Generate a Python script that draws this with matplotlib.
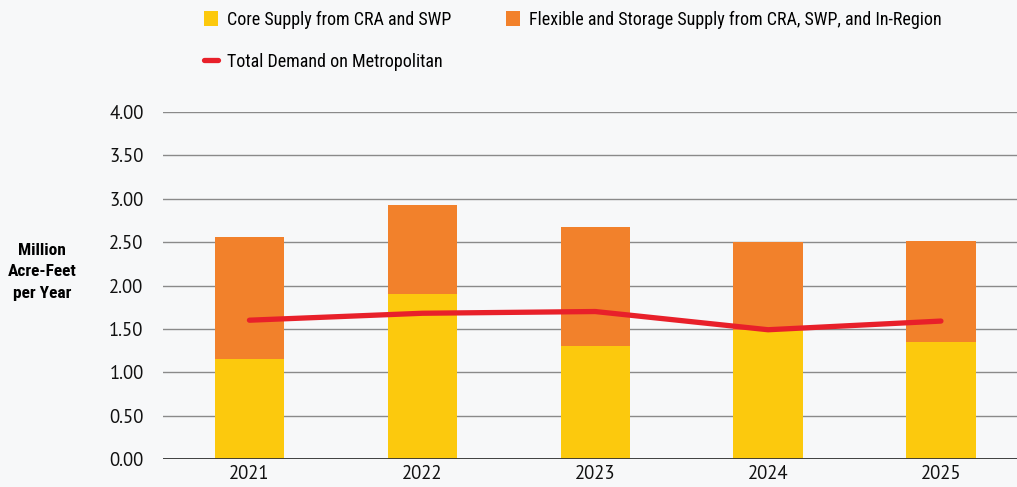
import matplotlib.pyplot as plt
import numpy as np

years = ["2021", "2022", "2023", "2024", "2025"]
core = [1.15, 1.90, 1.30, 1.49, 1.35]          # Core Supply from CRA and SWP
total_supply = [2.56, 2.93, 2.67, 2.50, 2.51]  # top of stacked bar
demand = [1.60, 1.68, 1.70, 1.49, 1.59]        # Total Demand on Metropolitan
flexible = [t - c for t, c in zip(total_supply, core)]

regular = ['PT Sans', 'Open Sans', 'DejaVu Sans']
narrow = ['Roboto Condensed', 'PT Sans Narrow', 'IBM Plex Sans Condensed', 'DejaVu Sans']
plt.rcParams['font.family'] = regular

bg = "#f7f8f9"
fig = plt.figure(figsize=(10.17, 4.87), dpi=100, facecolor=bg)
ax = fig.add_axes([163 / 1017, 1 - 459 / 487, (1017 - 163) / 1017, (459 - 112) / 487])
ax.set_facecolor(bg)

x = np.arange(len(years))
b1 = ax.bar(x, core, width=0.40, color="#fcc90d", zorder=2,
            label="Core Supply from CRA and SWP")
b2 = ax.bar(x, flexible, width=0.40, bottom=core, color="#f2812b", zorder=2,
            label="Flexible and Storage Supply from CRA, SWP, and In-Region")
ln, = ax.plot(x, demand, color="#e8202a", lw=3.8, solid_capstyle="round",
              solid_joinstyle="round", zorder=3, label="Total Demand on Metropolitan")

ax.set_ylim(0, 4)
ax.set_xlim(-0.5, 4.44)
ax.set_yticks(np.arange(0, 4.01, 0.5))
ax.set_yticklabels([f"{v:.2f}" for v in np.arange(0, 4.01, 0.5)])
ax.set_xticks(x)
ax.set_xticklabels(years)
ax.tick_params(axis="both", length=0, labelsize=13.5, colors="#111111")
ax.tick_params(axis="y", pad=14)
ax.tick_params(axis="x", pad=4)
ax.grid(axis="y", color="#8a8a8a", lw=1.0, zorder=0)
ax.axhline(0, color="#333333", lw=1.3, zorder=4)
for s in ax.spines.values():
    s.set_visible(False)

fig.text(42 / 1017, 1 - 272 / 487, "Million\nAcre-Feet\nper Year", ha="center", va="center",
         fontsize=12.5, fontweight="bold", linespacing=1.55, family=narrow)

fig.legend(handles=[b1, ln, b2], loc="upper left", ncol=2,
           bbox_to_anchor=(193 / 1017, 1.0), frameon=False,
           prop={'family': narrow, 'size': 13}, borderpad=0.1,
           handlelength=0.8, handleheight=0.9, handletextpad=0.5,
           columnspacing=3.0, labelspacing=1.33)

fig.savefig("out.png", dpi=100, facecolor=bg)
